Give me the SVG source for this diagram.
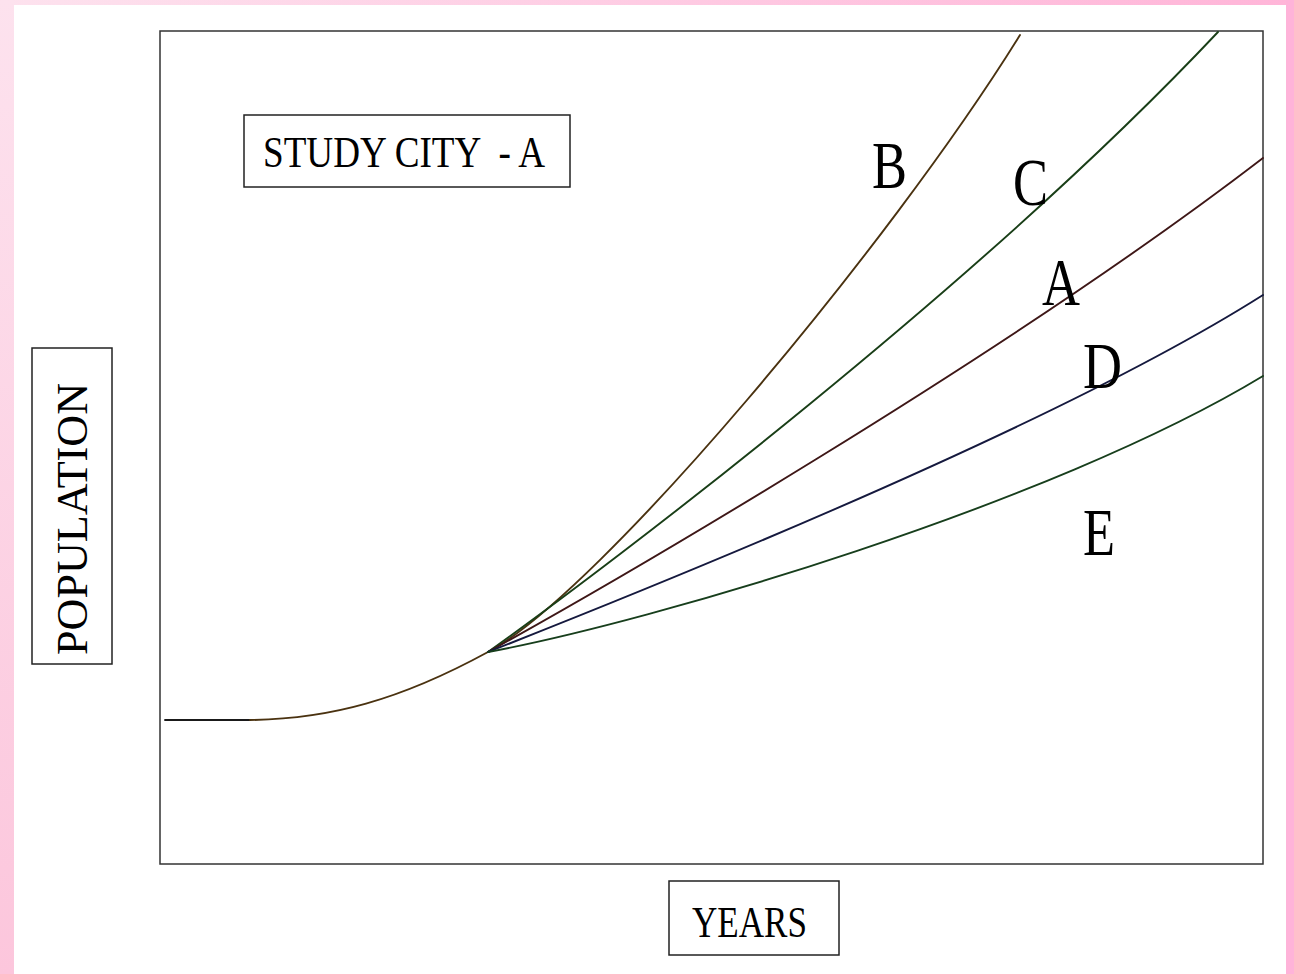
<svg xmlns="http://www.w3.org/2000/svg" width="1294" height="974" viewBox="0 0 1294 974">
<defs>
<linearGradient id="gTop" x1="0" y1="0" x2="1" y2="0"><stop offset="0" stop-color="#fde2ee"/><stop offset="1" stop-color="#ffb5d8"/></linearGradient>
<linearGradient id="gLeft" x1="0" y1="0" x2="0" y2="1"><stop offset="0" stop-color="#fde2ee"/><stop offset="1" stop-color="#fcc6dc"/></linearGradient>
<style>
.box{fill:#fff;stroke:#222;stroke-width:1.5}
.t{font-family:"Liberation Serif","Times New Roman","DejaVu Serif",serif;fill:#000}
.c{fill:none;stroke-width:1.9;stroke-linecap:round}
</style>
</defs>
<rect x="0" y="0" width="1294" height="974" fill="#fff"/>
<rect x="0" y="0" width="1294" height="5" fill="url(#gTop)"/>
<rect x="0" y="0" width="14" height="974" fill="url(#gLeft)"/>
<rect x="1286" y="0" width="8" height="974" fill="#ffb3d9"/>

<g id="frame"><rect x="160" y="31" width="1103" height="833" fill="none" stroke="#333" stroke-width="1.5"/></g>

<g id="connectors">
<path class="c" stroke="#1a1a1a" d="M165,720 H250"/>
<path class="c" stroke="#4a3210" d="M250,720 C330,719 400,700 488,652"/>
<path id="curveB" class="c" stroke="#4a3210" d="M488,652 C600,592 890,245 1020,35"/>
<path id="curveC" class="c" stroke="#193e17" d="M488,652 C610,565 980,285 1218,32"/>
<path id="curveA" class="c" stroke="#3e1717" d="M488,652 C600,590 1000,360 1263,158"/>
<path id="curveD" class="c" stroke="#15193e" d="M488,652 C620,600 1050,430 1263,295"/>
<path id="curveE" class="c" stroke="#173e1c" d="M488,652 C650,622 1050,505 1263,376"/>
</g>

<g id="title"><rect class="box" x="244" y="115" width="326" height="72"/>
<text class="t" x="263" y="167" font-size="44" textLength="282" lengthAdjust="spacingAndGlyphs" xml:space="preserve">STUDY CITY  - A</text></g>

<g id="ylabel"><rect class="box" x="32" y="348" width="80" height="316"/>
<text class="t" transform="translate(87,655) rotate(-90)" x="0" y="0" font-size="44" textLength="272" lengthAdjust="spacingAndGlyphs">POPULATION</text></g>

<g id="xlabel"><rect class="box" x="669" y="881" width="170" height="74"/>
<text class="t" x="692" y="937" font-size="45" textLength="115" lengthAdjust="spacingAndGlyphs">YEARS</text></g>

<g id="labels">
<text class="t" x="872" y="188" font-size="68" textLength="35" lengthAdjust="spacingAndGlyphs">B</text>
<text class="t" x="1013" y="205" font-size="68" textLength="35" lengthAdjust="spacingAndGlyphs">C</text>
<text class="t" x="1042" y="305" font-size="68" textLength="38" lengthAdjust="spacingAndGlyphs">A</text>
<text class="t" x="1083" y="388" font-size="66" textLength="39" lengthAdjust="spacingAndGlyphs">D</text>
<text class="t" x="1083" y="555" font-size="68" textLength="32" lengthAdjust="spacingAndGlyphs">E</text>
</g>
</svg>
